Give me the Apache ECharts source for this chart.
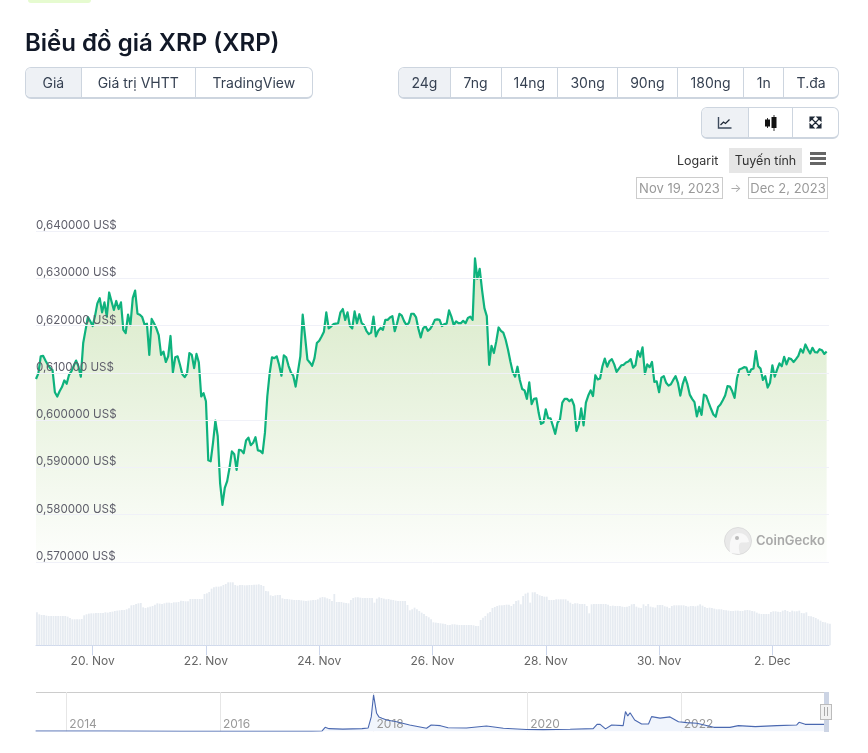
<!DOCTYPE html>
<html lang="vi"><head><meta charset="utf-8">
<style>
html,body{margin:0;padding:0;background:#fff;width:868px;height:753px;overflow:hidden;font-family:Inter,"Noto Sans",sans-serif}
#chart{position:absolute;left:0;top:0;width:868px;height:753px}
.ov{position:absolute;box-sizing:border-box}
.g{position:absolute;box-sizing:border-box;display:flex;border:1px solid #cdd5df;border-bottom-width:2px;border-radius:6px;overflow:hidden;background:#fff}
.g div{box-sizing:border-box;display:flex;align-items:center;justify-content:center;color:#364152;font-size:14px;border-left:1px solid #cdd5df;height:100%}
.g div:first-child{border-left:0;background:#eef1f5}
</style></head><body>
<div id="chart"></div>
<div class="ov" style="left:28px;top:0;width:63px;height:3px;background:#e6fbd0;border-radius:0 0 5px 5px"></div>
<div class="g" style="left:25px;top:67px;width:288px;height:32px">
 <div style="width:55px">Giá</div><div style="width:115px">Giá trị VHTT</div><div style="width:118px">TradingView</div></div>
<div class="g" style="left:398px;top:67px;width:441px;height:32px">
 <div style="width:51px">24g</div><div style="width:51px">7ng</div><div style="width:57px">14ng</div><div style="width:60px">30ng</div><div style="width:60px">90ng</div><div style="width:67px">180ng</div><div style="width:40px">1n</div><div style="width:55px">T.đa</div></div>
<div class="g" style="left:701px;top:107px;width:138px;height:32px">
 <div style="width:47px"><svg width="16" height="14" viewBox="0 0 16 14"><path d="M1.5 1v11h13" fill="none" stroke="#3d4a5c" stroke-width="1.4"/><path d="M3.5 9l3-3 2 1.5 4-4" fill="none" stroke="#1f2937" stroke-width="1.3"/></svg></div>
 <div style="width:44px"><svg width="14" height="18" viewBox="0 0 14 18"><path d="M3.5 4v10M10 1v16" stroke="#333" stroke-width="1"/><rect x="1" y="5.5" width="5" height="7" fill="#111"/><rect x="7.5" y="3" width="5" height="11" fill="#111"/></svg></div>
 <div style="width:47px"><svg width="13" height="13" viewBox="0 0 13 13"><path d="M1 1h4L1 5zM12 1v4L8 1zM1 12V8l4 4zM12 12H8l4-4zM2.5 2.5l8 8M10.5 2.5l-8 8" fill="#1f2937" stroke="#1f2937" stroke-width="1.1"/></svg></div></div>
<div class="ov" style="left:677px;top:152px;font-size:12.5px;color:#333;line-height:18px">Logarit</div>
<div class="ov" style="left:729px;top:148px;width:73px;height:25px;background:#e6e6e6;font-size:12.5px;color:#333;line-height:25px;text-align:center">Tuyến tính</div>
<div class="ov" style="left:810px;top:152px;width:16px;height:3px;background:#666"></div>
<div class="ov" style="left:810px;top:157px;width:16px;height:3px;background:#666"></div>
<div class="ov" style="left:810px;top:162px;width:16px;height:3px;background:#666"></div>
<div class="ov" style="left:636px;top:177px;width:87px;height:22px;border:1px solid #ccc;font-size:13px;color:#999;line-height:20px;text-align:center;white-space:nowrap">Nov 19, 2023</div>
<div class="ov" style="left:730px;top:178px;font-size:12px;color:#aaa;line-height:20px">→</div>
<div class="ov" style="left:748px;top:177px;width:80px;height:22px;border:1px solid #ccc;font-size:13px;color:#999;line-height:20px;text-align:center;white-space:nowrap">Dec 2, 2023</div>
<svg class="ov" style="left:724px;top:527px" width="28" height="28" viewBox="0 0 28 28"><circle cx="14" cy="14" r="13.5" fill="#e9e9e9" stroke="#dcdcdc"/><path d="M6 26C5 15 7 7 14 6c6 0 10 3 11 9-4 1-7 0-9 1-2 3-1 7 0 11z" fill="#f8f8f8"/><circle cx="13" cy="11" r="2" fill="#bbb"/></svg>
<div class="ov" style="left:756px;top:531px;font-size:13px;font-weight:600;color:#a9a9a9;line-height:18px">CoinGecko</div>
<div class="ov" style="left:824px;top:692px;width:5px;height:40px;background:#ccd4e4"></div>
<div class="ov" style="left:820px;top:704px;width:12px;height:16px;background:#f2f2f2;border:1px solid #bbb"></div>
<div class="ov" style="left:824px;top:707px;width:1px;height:9px;background:#aaa"></div>
<div class="ov" style="left:827px;top:707px;width:1px;height:9px;background:#aaa"></div>
<script src="https://cdn.jsdelivr.net/npm/echarts@6/dist/echarts.min.js"></script>
<script>
const chartTitle = 'Biểu đồ giá XRP (XRP)';
// Hourly XRP price from 19 Nov 2023 00:00, in US$ x 10000
const prices = [
6087,6099,6135,6136,6126,6117,6110,6106,6059,6050,6061,6070,6084,6077,6096,6103,6115,6126,6113,6092,
6163,6191,6218,6209,6199,6220,6247,6258,6228,6249,6219,6270,6251,6233,6252,6235,6249,6191,6184,6223,
6201,6258,6274,6225,6223,6218,6202,6204,6138,6214,6205,6194,6180,6138,6145,6123,6135,6178,6101,6133,
6135,6117,6097,6091,6099,6142,6138,6110,6140,6122,6050,6057,6040,5915,5913,5952,5999,5966,5867,5821,
5857,5871,5899,5934,5928,5895,5937,5936,5930,5957,5963,5947,5952,5964,5936,5935,5930,5973,6050,6099,
6133,6131,6135,6117,6094,6137,6133,6115,6101,
6094,6071,6103,6135,6223,6177,6128,6122,6115,6131,6163,6168,6177,6187,6228,6194,6198,6203,6204,6205,
6228,6235,6212,6228,6199,6194,6230,6205,6224,6205,6201,6189,6182,6185,6219,6177,6189,6195,6191,6212,
6212,6217,6220,6188,6205,6225,6221,6209,6201,6206,6225,6225,6218,6194,6175,6194,6199,6189,6193,6201,
6212,6213,6212,6199,6203,6204,6232,6219,6201,6209,6205,6205,6210,6205,6216,6219,6212,6342,6299,6320,
6275,6237,6220,6117,6157,6142,6166,6196,6189,6185,6170,6149,6124,6102,6092,6113,6085,6066,6063,6045,
6080,6034,6045,6046,6015,5992,5995,6023,6004,6004,5988,5971,5995,
6001,6037,6045,6045,6040,6044,6031,5977,5991,6025,5989,6037,6052,6063,6051,6095,6086,6088,6114,6130,
6113,6125,6129,6118,6102,6109,6116,6117,6122,6124,6129,6111,6116,6146,6134,6154,6098,6118,6112,6123,
6081,6082,6059,6090,6093,6079,6073,6076,6085,6093,6079,6052,6076,6091,6076,6054,6045,6038,6008,6028,
6011,6054,6051,6037,6024,6012,6007,6028,6033,6042,6052,6072,6071,6061,6047,6088,6107,6109,6112,6111,
6096,6107,6109,6146,6114,6109,6085,6093,6069,6079,6116,6092,6107,6120,6114,6134,6118,6131,6129,6123,
6129,6136,6150,6143,6160,6150,6141,6153,6144,6143,6150,6148,6140,6145];
// Hourly volume, arbitrary units
const volumes = [
99,93,91,91,89,88,88,88,88,88,88,88,88,86,82,78,78,78,78,79,
90,93,95,96,96,97,97,97,97,99,98,100,101,103,104,105,106,106,108,111,120,121,124,126,127,114,112,114,116,118,
122,126,125,124,126,128,128,127,129,129,130,134,133,132,132,139,139,139,139,139,139,
154,156,160,170,174,176,176,177,181,184,189,189,189,181,179,181,181,180,180,181,181,182,182,183,181,178,163,162,150,148,150,151,151,
141,139,139,138,137,136,136,136,135,134,133,134,135,136,136,138,
143,145,144,141,139,133,154,130,130,130,128,127,126,136,142,144,144,143,142,142,142,142,142,128,140,144,142,140,138,139,137,136,134,133,133,133,133,121,105,108,113,108,103,98,94,88,84,
78,69,68,67,66,65,64,61,61,63,63,62,61,61,61,61,61,61,60,58,
58,76,83,88,96,100,112,115,118,120,120,121,122,122,118,124,133,135,123,148,
155,158,128,159,159,154,150,148,146,146,136,136,136,138,138,138,138,138,134,128,
124,126,126,124,124,124,118,96,123,124,124,124,124,124,124,122,118,119,118,118,
118,116,115,116,118,123,124,116,113,112,123,118,124,116,114,113,121,121,121,117,
116,112,118,120,120,120,120,120,118,116,118,118,117,119,123,119,115,112,113,112,
110,108,108,108,106,105,104,103,103,104,104,103,103,105,106,105,103,102,98,95,
94,94,94,94,100,102,102,101,100,104,106,103,100,104,102,102,104,97,96,99,
88,87,85,82,78,74,70,69,66,65];
const dayTicks = [24,72,120,168,216,264,312];
const dayLabels = ['20. Nov','22. Nov','24. Nov','26. Nov','28. Nov','30. Nov','2. Dec'];
const navYears = [2013.6,2014.5,2015.5,2016.5,2017.2,2017.33,2017.37,2017.42,2017.6,2017.85,2017.93,2017.97,2018.0,2018.015,2018.04,2018.07,2018.11,2018.17,2018.30,2018.47,2018.69,2018.75,2018.87,2018.97,2019.21,2019.47,2019.69,2019.99,2020.21,2020.56,2020.86,2020.91,2020.95,2021.02,2021.10,2021.25,2021.28,2021.31,2021.34,2021.40,2021.49,2021.58,2021.62,2021.73,2021.86,2021.97,2022.08,2022.21,2022.43,2022.64,2022.75,2022.97,2023.25,2023.51,2023.54,2023.62,2023.86,2023.93];
const navPrices = [0.02,0.02,0.01,0.01,0.01,0.03,0.33,0.22,0.18,0.22,0.28,1.2,3.03,3.03,1.5,1.2,1.08,0.94,0.8,0.53,0.25,0.53,0.47,0.3,0.28,0.44,0.25,0.15,0.14,0.17,0.22,0.58,0.58,0.2,0.53,0.47,1.64,1.28,1.55,0.94,0.61,0.61,1.22,1.1,1.2,0.8,0.72,0.67,0.33,0.33,0.47,0.39,0.47,0.53,0.75,0.58,0.58,0.6];
const navYearTicks = [2014,2016,2018,2020,2022];

const fmtPrice = v => v.toFixed(6).replace('.', ',') + ' US$';
const L = 36, R = 39;
const font = 'Inter';
const chart = echarts.init(document.getElementById('chart'), null, {renderer:'canvas'});
chart.setOption({
  animation:false,
  backgroundColor:'#fff',
  title:{text:chartTitle,left:20,top:27,textStyle:{fontFamily:font,fontSize:24,fontWeight:600,color:'#111827'}},
  grid:[
    {left:L,right:R,top:231,height:331},
    {left:L,right:R,top:582,height:63.3},
    {left:L,right:R,top:692,height:39.3}
  ],
  xAxis:[
    {gridIndex:0,type:'value',min:0,max:336,show:false},
    {gridIndex:1,type:'value',min:0,max:336,splitLine:{show:false},
     axisLine:{show:true,lineStyle:{color:'#ccd6eb'}},
     axisTick:{show:true,length:10,customValues:dayTicks,lineStyle:{color:'#ccd6eb'}},
     axisLabel:{customValues:dayTicks,margin:10,fontFamily:font,fontSize:12,color:'#666',
       formatter:v=>dayLabels[dayTicks.indexOf(v)]||''}},
    {gridIndex:2,type:'value',min:2013.605,max:2023.93,position:'bottom',z:3,
     axisLine:{show:false},
     axisTick:{show:false,customValues:navYearTicks},
     splitLine:{show:true,lineStyle:{color:'#e6e6e6'}},
     axisLabel:{customValues:navYearTicks,inside:true,margin:1,align:'left',padding:[0,0,0,3],fontFamily:font,fontSize:12,color:'#999',
       formatter:v=>String(v)}}
  ],
  yAxis:[
    {gridIndex:0,type:'value',min:0.57,max:0.64,interval:0.01,z:3,
     axisLine:{show:false},axisTick:{show:false},
     splitLine:{lineStyle:{color:'#f0f1f8'}},
     axisLabel:{inside:true,margin:0,align:'left',verticalAlign:'bottom',lineHeight:11,fontFamily:font,fontSize:11.6,color:'#5f5f6b',formatter:fmtPrice}},
    {gridIndex:1,type:'value',min:0,max:190,show:false},
    {gridIndex:2,type:'value',min:0,max:3.275,show:false}
  ],
  series:[
    {type:'line',xAxisIndex:0,yAxisIndex:0,symbol:'none',sampling:false,z:2,
     data:prices.map((p,i)=>[i,p/10000]),
     lineStyle:{color:'#0eb27d',width:2.2,join:'round'},
     areaStyle:{origin:'start',opacity:1,color:new echarts.graphic.LinearGradient(0,0,0,1,[{offset:0,color:'#d7e9c6'},{offset:1,color:'#fdfefc'}])}},
    {type:'bar',xAxisIndex:1,yAxisIndex:1,barWidth:1.8,
     data:volumes.map((v,i)=>[i+0.4,v]),itemStyle:{color:'#e6ebf1'}},
    {type:'line',xAxisIndex:2,yAxisIndex:2,symbol:'none',
     data:navYears.map((y,i)=>[y,navPrices[i]]),
     lineStyle:{color:'#4a68b0',width:1.1},
     areaStyle:{color:'#f1f5fc',opacity:1}}
  ],
  graphic:[{type:'line',shape:{x1:36,y1:692.5,x2:826,y2:692.5},style:{stroke:'#cccccc',lineWidth:1},silent:true}]
});
</script>
</body></html>
